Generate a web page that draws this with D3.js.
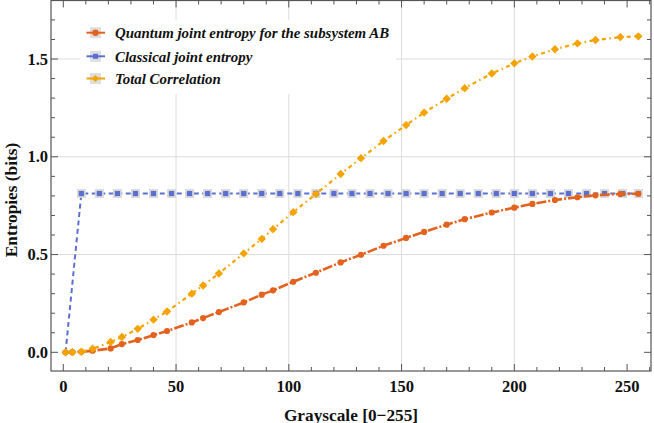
<!DOCTYPE html>
<html>
<head>
<meta charset="utf-8">
<script src="https://cdn.jsdelivr.net/npm/d3@7"></script>
<style>
  body { margin: 0; background: #fff; }
  svg { display: block; }
  text { font-family: 'Liberation Serif', 'Times New Roman', serif; font-weight: bold; fill: #111; }
</style>
</head>
<body>
<svg id="chart" width="654" height="423"></svg>
<script>
// sample points
const sampleX = [1, 4, 8, 13, 21, 26, 33, 40, 46, 57, 62, 69, 80, 88, 93, 102, 112, 123, 132, 142, 152, 160, 170, 178, 190, 200, 208, 218, 228, 236, 247, 255];
const quantumAB = [0, 0.001, 0.003, 0.008, 0.02, 0.042, 0.063, 0.088, 0.109, 0.153, 0.175, 0.206, 0.255, 0.295, 0.317, 0.361, 0.407, 0.46, 0.499, 0.545, 0.585, 0.616, 0.653, 0.681, 0.715, 0.74, 0.759, 0.779, 0.793, 0.803, 0.81, 0.811];
const totalCorr = [0, 0.001, 0.003, 0.018, 0.053, 0.078, 0.12, 0.167, 0.209, 0.3, 0.342, 0.403, 0.506, 0.58, 0.63, 0.717, 0.81, 0.912, 0.993, 1.081, 1.162, 1.226, 1.297, 1.351, 1.426, 1.478, 1.513, 1.55, 1.58, 1.597, 1.612, 1.616];

const classicalX = [1, 8, 16, 24, 32, 40, 48, 56, 64, 72, 80, 88, 96, 104, 112, 120, 128, 136, 144, 152, 160, 168, 176, 184, 192, 200, 208, 216, 224, 232, 240, 248, 255];
const classicalY = [0, 0.812, 0.812, 0.812, 0.812, 0.812, 0.812, 0.812, 0.812, 0.812, 0.812, 0.812, 0.812, 0.812, 0.812, 0.812, 0.812, 0.812, 0.812, 0.812, 0.812, 0.812, 0.812, 0.812, 0.812, 0.812, 0.812, 0.812, 0.812, 0.812, 0.812, 0.812, 0.812];

const xTicks = [0, 50, 100, 150, 200, 250];
const yTicks = [0, 0.5, 1.0, 1.5];
const xGrid = [50, 100, 150, 200];
const yGrid = [0.5, 1.0, 1.5];

const seriesNames = ['Quantum joint entropy for the subsystem AB', 'Classical joint entropy', 'Total Correlation'];

const svg = d3.select('#chart');
const pLeft = 51, pRight = 651, pTop = 0.5, pBottom = 371;

const x = d3.scaleLinear().domain([-5.45, 260.6]).range([pLeft, pRight]);
const y = d3.scaleLinear().domain([-0.0955, 1.7993]).range([pBottom, pTop]);

const colQ = '#e3621e', colC = '#5b6fd0', colT = '#f5a300';

// grid
svg.append('g').selectAll('line').data(xGrid).join('line')
  .attr('x1', (d) => x(d)).attr('x2', (d) => x(d))
  .attr('y1', pTop).attr('y2', pBottom)
  .attr('stroke', '#dcdcdc').attr('stroke-width', 1);
svg.append('g').selectAll('line').data(yGrid).join('line')
  .attr('x1', pLeft).attr('x2', pRight)
  .attr('y1', (d) => y(d)).attr('y2', (d) => y(d))
  .attr('stroke', '#dcdcdc').attr('stroke-width', 1);

// frame + inward ticks on all sides
const frame = svg.append('g');
frame.append('rect')
  .attr('x', pLeft).attr('y', pTop)
  .attr('width', pRight - pLeft).attr('height', pBottom - pTop)
  .attr('fill', 'none').attr('stroke', '#555').attr('stroke-width', 1.2);

const xMinor = d3.range(0, 261, 10);
const yMinor = d3.range(-0.1, 1.81, 0.1).map((v) => +v.toFixed(2)).filter((d) => y(d) > pTop && y(d) < pBottom);

function tickLen(v, majors) { return majors.some((m) => Math.abs(m - v) < 1e-6) ? 7 : 4; }

frame.selectAll('.xb').data(xMinor).join('line').attr('class', 'xb')
  .attr('x1', (d) => x(d)).attr('x2', (d) => x(d))
  .attr('y1', pBottom).attr('y2', (d) => pBottom - tickLen(d, xTicks))
  .attr('stroke', '#555');
frame.selectAll('.xt').data(xMinor).join('line').attr('class', 'xt')
  .attr('x1', (d) => x(d)).attr('x2', (d) => x(d))
  .attr('y1', pTop).attr('y2', (d) => pTop + tickLen(d, xTicks))
  .attr('stroke', '#555');
frame.selectAll('.yl').data(yMinor).join('line').attr('class', 'yl')
  .attr('y1', (d) => y(d)).attr('y2', (d) => y(d))
  .attr('x1', pLeft).attr('x2', (d) => pLeft + tickLen(d, yTicks))
  .attr('stroke', '#555');
frame.selectAll('.yr').data(yMinor).join('line').attr('class', 'yr')
  .attr('y1', (d) => y(d)).attr('y2', (d) => y(d))
  .attr('x1', pRight).attr('x2', (d) => pRight - tickLen(d, yTicks))
  .attr('stroke', '#555');

// tick labels
svg.append('g').selectAll('text').data(xTicks).join('text')
  .attr('x', (d) => x(d)).attr('y', 392)
  .attr('text-anchor', 'middle').attr('font-size', 16.5)
  .text((d) => d);
svg.append('g').selectAll('text').data(yTicks).join('text')
  .attr('x', 48).attr('y', (d) => y(d) + 5.5)
  .attr('text-anchor', 'end').attr('font-size', 16.5)
  .text((d) => d.toFixed(1));

// axis titles
svg.append('text')
  .attr('x', (pLeft + pRight) / 2).attr('y', 420.5)
  .attr('text-anchor', 'middle').attr('font-size', 17.3)
  .text('Grayscale [0\u2212255]');
svg.append('text')
  .attr('transform', 'translate(16.5,200) rotate(-90)')
  .attr('text-anchor', 'middle').attr('font-size', 17.3)
  .text('Entropies (bits)');

// data
const plot = svg.append('g');
const line = d3.line().x((d) => x(d[0])).y((d) => y(d[1]));

const qPts = sampleX.map((v, i) => [v, quantumAB[i]]);
const tPts = sampleX.map((v, i) => [v, totalCorr[i]]);
const cPts = classicalX.map((v, i) => [v, classicalY[i]]);

plot.append('path').datum(cPts).attr('d', line)
  .attr('fill', 'none').attr('stroke', colC).attr('stroke-width', 2).attr('stroke-dasharray', '5,3.5');
plot.selectAll('.cbg').data(cPts.slice(1)).join('rect').attr('class', 'cbg')
  .attr('x', (d) => x(d[0]) - 4.5).attr('y', (d) => y(d[1]) - 4.5)
  .attr('width', 9).attr('height', 9).attr('fill', '#d6d6d6').attr('opacity', 0.9);
plot.selectAll('.cm').data(cPts.slice(1)).join('rect').attr('class', 'cm')
  .attr('x', (d) => x(d[0]) - 2.6).attr('y', (d) => y(d[1]) - 2.6)
  .attr('width', 5.2).attr('height', 5.2).attr('fill', colC);

plot.append('path').datum(qPts).attr('d', line)
  .attr('fill', 'none').attr('stroke', colQ).attr('stroke-width', 2.6).attr('stroke-dasharray', '10,2,2,2');
plot.selectAll('.qm').data(qPts).join('circle').attr('class', 'qm')
  .attr('cx', (d) => x(d[0])).attr('cy', (d) => y(d[1]))
  .attr('r', 3.1).attr('fill', colQ);

plot.append('path').datum(tPts).attr('d', line)
  .attr('fill', 'none').attr('stroke', colT).attr('stroke-width', 2.2).attr('stroke-dasharray', '1.5,3.5,4,3.5');
const diamond = (cx, cy, r) => `M${cx},${cy - r}L${cx + r},${cy}L${cx},${cy + r}L${cx - r},${cy}Z`;
plot.selectAll('.tm').data(tPts).join('path').attr('class', 'tm')
  .attr('d', (d) => diamond(x(d[0]), y(d[1]), 4.2)).attr('fill', colT);

// legend
const legend = svg.append('g');
legend.append('rect')
  .attr('x', 80).attr('y', 20).attr('width', 316).attr('height', 74).attr('fill', '#fff');

const rows = [
  { name: seriesNames[0], color: colQ, mark: 'circle', y: 32.7 },
  { name: seriesNames[1], color: colC, mark: 'square', y: 56.3 },
  { name: seriesNames[2], color: colT, mark: 'diamond', y: 78.5 },
];

const item = legend.selectAll('.item').data(rows).join('g').attr('class', 'item')
  .attr('transform', (d) => `translate(0,${d.y})`);
item.append('rect').attr('x', 90).attr('y', -5.5).attr('width', 11).attr('height', 11).attr('fill', '#dedede');
item.append('line').attr('x1', 86.5).attr('x2', 105).attr('y1', 0).attr('y2', 0)
  .attr('stroke', (d) => d.color).attr('stroke-width', 2);
item.each(function (d) {
  const g = d3.select(this);
  if (d.mark === 'circle') g.append('circle').attr('cx', 95.5).attr('cy', 0).attr('r', 3.2).attr('fill', d.color);
  else if (d.mark === 'square') g.append('rect').attr('x', 93).attr('y', -2.5).attr('width', 5).attr('height', 5).attr('fill', d.color);
  else g.append('path').attr('d', diamond(95.5, 0, 3.6)).attr('fill', d.color);
});
item.append('text').attr('x', 115).attr('y', 5.5)
  .attr('font-size', 14.9).attr('font-style', 'italic')
  .text((d) => d.name);
</script>
</body>
</html>
